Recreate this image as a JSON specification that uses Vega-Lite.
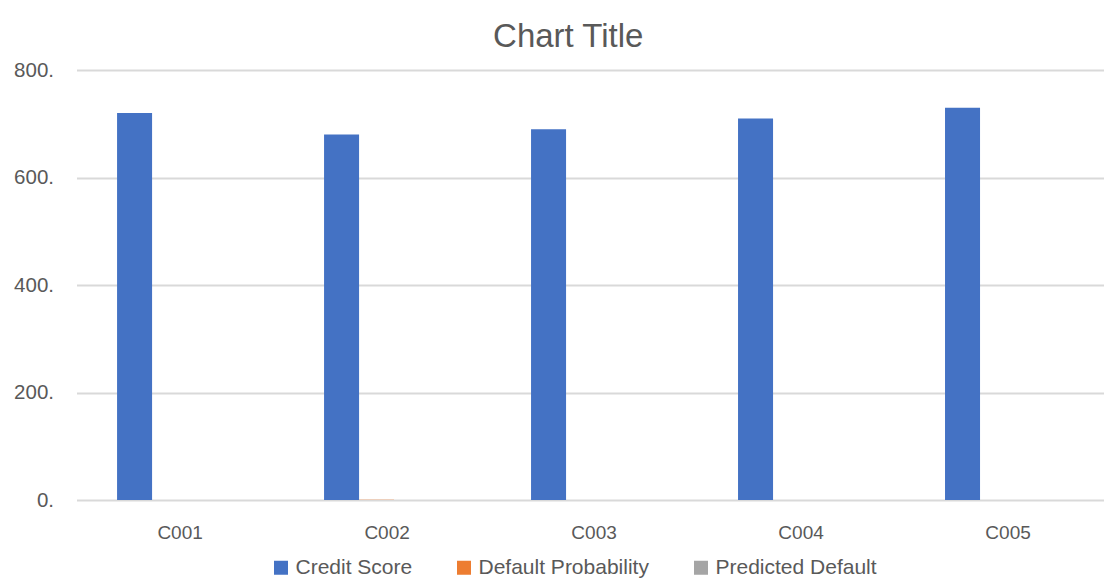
{
  "$schema": "https://vega.github.io/schema/vega-lite/v6.json",
  "autosize": {"type": "none"},
  "padding": {"left": 76.5, "top": 70, "right": 0, "bottom": 83},
  "width": 1027.5,
  "height": 430,
  "background": "white",
  "title": {
    "text": "Chart Title",
    "font": "Liberation Sans",
    "fontSize": 33,
    "fontWeight": "normal",
    "color": "#595959",
    "anchor": "middle",
    "dx": -22,
    "offset": 6
  },
  "data": {
    "values": [
      {"customer": "C001", "series": "Credit Score", "value": 720},
      {"customer": "C001", "series": "Default Probability", "value": 0.12},
      {"customer": "C001", "series": "Predicted Default", "value": 0},
      {"customer": "C002", "series": "Credit Score", "value": 680},
      {"customer": "C002", "series": "Default Probability", "value": 0.25},
      {"customer": "C002", "series": "Predicted Default", "value": 0},
      {"customer": "C003", "series": "Credit Score", "value": 690},
      {"customer": "C003", "series": "Default Probability", "value": 0.2},
      {"customer": "C003", "series": "Predicted Default", "value": 0},
      {"customer": "C004", "series": "Credit Score", "value": 710},
      {"customer": "C004", "series": "Default Probability", "value": 0.15},
      {"customer": "C004", "series": "Predicted Default", "value": 0},
      {"customer": "C005", "series": "Credit Score", "value": 730},
      {"customer": "C005", "series": "Default Probability", "value": 0.1},
      {"customer": "C005", "series": "Predicted Default", "value": 0}
    ]
  },
  "mark": {"type": "bar"},
  "encoding": {
    "x": {
      "field": "customer",
      "type": "nominal",
      "sort": null,
      "scale": {"paddingInner": 0.391, "paddingOuter": 0.1775, "align": 0.552},
      "axis": {
        "title": null,
        "labelAngle": 0,
        "labelFont": "Liberation Sans",
        "labelFontSize": 19,
        "labelColor": "#595959",
        "labelPadding": 23,
        "ticks": false,
        "domain": false,
        "grid": false
      }
    },
    "xOffset": {
      "field": "series",
      "type": "nominal",
      "sort": ["Credit Score", "Default Probability", "Predicted Default"],
      "scale": {"paddingInner": 0, "paddingOuter": 0.3, "align": 0}
    },
    "y": {
      "field": "value",
      "type": "quantitative",
      "scale": {"domain": [0, 800], "nice": false},
      "axis": {
        "title": null,
        "values": [0, 200, 400, 600, 800],
        "labelExpr": "format(datum.value, 'd') + '.'",
        "labelFont": "Liberation Sans",
        "labelFontSize": 20.5,
        "labelColor": "#595959",
        "labelPadding": 23,
        "ticks": false,
        "domain": false,
        "grid": true,
        "gridColor": "#D9D9D9",
        "gridWidth": 2
      }
    },
    "color": {
      "field": "series",
      "type": "nominal",
      "sort": ["Credit Score", "Default Probability", "Predicted Default"],
      "scale": {
        "domain": ["Credit Score", "Default Probability", "Predicted Default"],
        "range": ["#4472C4", "#ED7D31", "#A5A5A5"]
      },
      "legend": {
        "title": null,
        "orient": "none",
        "direction": "horizontal",
        "legendX": 194,
        "legendY": 487,
        "symbolType": "square",
        "symbolSize": 196,
        "symbolStrokeWidth": 0,
        "labelFont": "Liberation Sans",
        "labelFontSize": 21,
        "labelColor": "#595959",
        "labelOffset": 4,
        "columnPadding": 41,
        "labelLimit": 300
      }
    }
  },
  "config": {
    "view": {"stroke": null}
  }
}
